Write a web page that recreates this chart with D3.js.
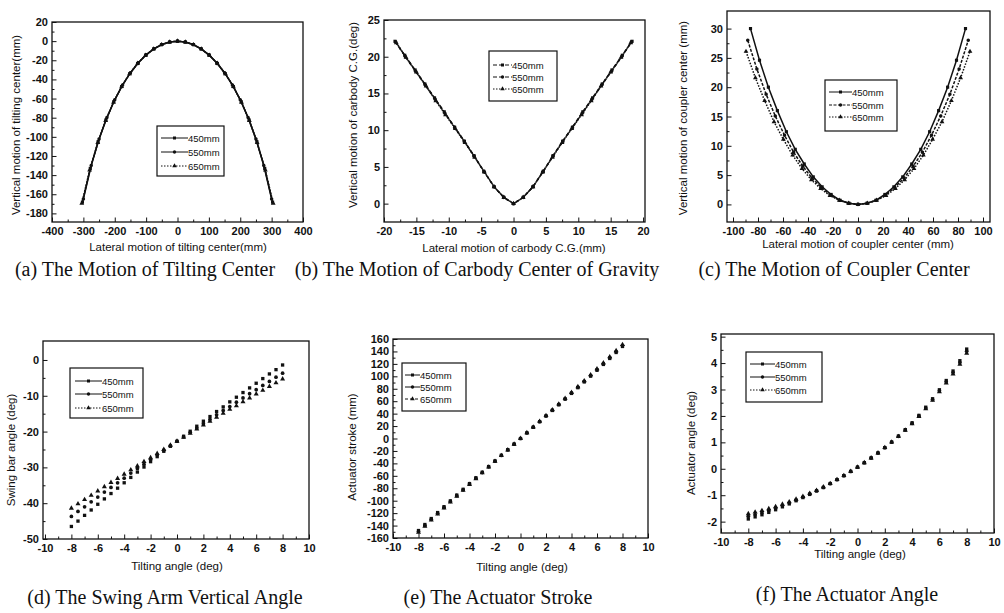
<!DOCTYPE html>
<html>
<head>
<meta charset="utf-8">
<script src="https://cdn.jsdelivr.net/npm/d3@7"></script>
<style>
  body { margin: 0; background: #fff; }
  svg { display: block; }
  .tick text { font-family: "Liberation Sans", Arial, sans-serif; font-weight: bold; font-size: 11px; fill: #111; }
  .tick line { stroke: #111; stroke-width: 1; }
  .axis-title { font-family: "Liberation Sans", Arial, sans-serif; font-size: 11.5px; fill: #111; }
  .legend-text { font-family: "Liberation Sans", Arial, sans-serif; font-size: 9.5px; fill: #111; }
  .caption { font-family: "Liberation Serif", "Times New Roman", serif; font-size: 20px; fill: #111; }
</style>
</head>
<body>
<div id="chart"></div>
<script>
const seriesNames = ["450mm", "550mm", "650mm"];

// (a) tilting center
const aX450 = [-303,-278,-253,-228,-203,-178,-152,-127,-101,-76,-51,-25,0,25,51,76,101,127,152,178,203,228,253,278,303];
const aY450 = [-168.2,-133.0,-105.1,-82.3,-63.3,-47.5,-34.0,-23.4,-14.6,-8.2,-3.7,-0.9,0,-0.9,-3.7,-8.2,-14.6,-23.4,-34.0,-47.5,-63.3,-82.3,-105.1,-133.0,-168.2];
const aX550 = [-300,-275,-250,-225,-200,-175,-150,-125,-100,-75,-50,-25,0,25,50,75,100,125,150,175,200,225,250,275,300];
const aY550 = [-165.0,-130.0,-102.2,-79.8,-61.3,-45.8,-33.0,-22.6,-14.3,-8.0,-3.5,-0.9,0,-0.9,-3.5,-8.0,-14.3,-22.6,-33.0,-45.8,-61.3,-79.8,-102.2,-130.0,-165.0];
const aX650 = [-305,-280,-254,-229,-204,-178,-153,-127,-102,-76,-51,-25,0,25,51,76,102,127,153,178,204,229,254,280,305];
const aY650 = [-169.5,-134.8,-106.0,-83.0,-63.9,-47.3,-34.3,-23.2,-14.8,-8.2,-3.7,-0.9,0,-0.9,-3.7,-8.2,-14.8,-23.2,-34.3,-47.3,-63.9,-83.0,-106.0,-134.8,-169.5];

// (b) carbody C.G.
const bX450 = [-18.3,-16.8,-15.2,-13.7,-12.2,-10.7,-9.1,-7.6,-6.1,-4.6,-3.0,-1.5,0,1.5,3.0,4.6,6.1,7.6,9.1,10.7,12.2,13.7,15.2,16.8,18.3];
const bY450 = [22.1,20.2,18.2,16.3,14.4,12.5,10.4,8.5,6.5,4.4,2.3,0.85,0,0.85,2.3,4.4,6.5,8.5,10.4,12.5,14.4,16.3,18.2,20.2,22.1];
const bX550 = [-18.2,-16.7,-15.1,-13.6,-12.1,-10.6,-9.1,-7.6,-6.1,-4.5,-3.0,-1.5,0,1.5,3.0,4.5,6.1,7.6,9.1,10.6,12.1,13.6,15.1,16.7,18.2];
const bY550 = [22.0,20.0,18.0,16.1,14.2,12.3,10.4,8.5,6.5,4.3,2.3,0.85,0,0.85,2.3,4.3,6.5,8.5,10.4,12.3,14.2,16.1,18.0,20.0,22.0];
const bX650 = [-18.1,-16.6,-15.0,-13.5,-12.0,-10.5,-9.0,-7.5,-6.0,-4.5,-3.0,-1.5,0,1.5,3.0,4.5,6.0,7.5,9.0,10.5,12.0,13.5,15.0,16.6,18.1];
const bY650 = [21.9,19.9,17.9,16.0,14.0,12.1,10.2,8.3,6.3,4.3,2.3,0.85,0,0.85,2.3,4.3,6.3,8.3,10.2,12.1,14.0,16.0,17.9,19.9,21.9];

// (c) coupler center
const cX450 = [-86,-78.8,-71.7,-64.5,-57.3,-50.2,-43,-35.8,-28.7,-21.5,-14.3,-7.2,0,7.2,14.3,21.5,28.7,35.8,43,50.2,57.3,64.5,71.7,78.8,86];
const cY450 = [30.0,24.6,20.0,16.0,12.4,9.4,6.9,4.7,3.0,1.7,0.7,0.2,0,0.2,0.7,1.7,3.0,4.7,6.9,9.4,12.4,16.0,20.0,24.6,30.0];
const cX550 = [-88.2,-80.9,-73.5,-66.2,-58.8,-51.5,-44.1,-36.8,-29.4,-22.1,-14.7,-7.4,0,7.4,14.7,22.1,29.4,36.8,44.1,51.5,58.8,66.2,73.5,80.9,88.2];
const cY550 = [28.0,23.1,18.8,15.1,11.8,8.9,6.5,4.5,2.9,1.6,0.7,0.2,0,0.2,0.7,1.6,2.9,4.5,6.5,8.9,11.8,15.1,18.8,23.1,28.0];
const cX650 = [-89.6,-82.1,-74.7,-67.2,-59.7,-52.3,-44.8,-37.3,-29.9,-22.4,-14.9,-7.5,0,7.5,14.9,22.4,29.9,37.3,44.8,52.3,59.7,67.2,74.7,82.1,89.6];
const cY650 = [26.1,21.6,17.7,14.1,11.1,8.4,6.1,4.2,2.7,1.5,0.7,0.2,0,0.2,0.7,1.5,2.7,4.2,6.1,8.4,11.1,14.1,17.7,21.6,26.1];

// (d)(e)(f) against tilting angle
const tilt = [-8,-7.5,-7,-6.5,-6,-5.5,-5,-4.5,-4,-3.5,-3,-2.5,-2,-1.5,-1,-0.5,0,0.5,1,1.5,2,2.5,3,3.5,4,4.5,5,5.5,6,6.5,7,7.5,8];

const d450 = [-46.5,-45.0,-43.4,-41.9,-40.3,-38.8,-37.3,-35.8,-34.3,-32.8,-31.3,-29.9,-28.4,-27.0,-25.5,-24.1,-22.7,-21.3,-19.9,-18.5,-17.1,-15.8,-14.4,-13.1,-11.7,-10.4,-9.1,-7.8,-6.5,-5.2,-3.9,-2.7,-1.4];
const d550 = [-43.7,-42.3,-41.0,-39.6,-38.3,-36.9,-35.6,-34.3,-33.0,-31.6,-30.3,-29.1,-27.8,-26.5,-25.2,-24.0,-22.7,-21.5,-20.2,-19.0,-17.8,-16.6,-15.3,-14.1,-13.0,-11.8,-10.6,-9.4,-8.3,-7.1,-6.0,-4.8,-3.7];
const d650 = [-41.4,-40.2,-39.0,-37.8,-36.6,-35.4,-34.2,-33.1,-31.9,-30.7,-29.6,-28.4,-27.3,-26.1,-25.0,-23.8,-22.7,-21.6,-20.5,-19.3,-18.2,-17.1,-16.0,-14.9,-13.8,-12.8,-11.7,-10.6,-9.5,-8.5,-7.4,-6.4,-5.3];

const e450 = [-148.0,-138.3,-128.7,-119.1,-109.7,-100.3,-91.0,-81.7,-72.5,-63.3,-54.2,-45.1,-36.1,-27.0,-18.0,-9.0,0,9.0,18.0,27.0,36.1,45.1,54.2,63.3,72.5,81.7,91.0,100.3,109.7,119.1,128.7,138.3,148.0];
const e550 = [-149.5,-139.7,-130.0,-120.3,-110.8,-101.3,-91.9,-82.5,-73.2,-63.9,-54.7,-45.6,-36.5,-27.3,-18.2,-9.1,0,9.1,18.2,27.3,36.5,45.6,54.7,63.9,73.2,82.5,91.9,101.3,110.8,120.3,130.0,139.7,149.5];
const e650 = [-151.0,-141.1,-131.3,-121.5,-111.9,-102.3,-92.8,-83.3,-74.0,-64.6,-55.3,-46.0,-36.8,-27.5,-18.4,-9.2,0,9.2,18.4,27.5,36.8,46.0,55.3,64.6,74.0,83.3,92.8,102.3,111.9,121.5,131.3,141.1,151.0];

const f450 = [-1.90,-1.82,-1.74,-1.65,-1.55,-1.44,-1.33,-1.21,-1.09,-0.97,-0.84,-0.71,-0.56,-0.41,-0.26,-0.10,0.06,0.23,0.41,0.60,0.80,1.01,1.24,1.48,1.74,2.02,2.33,2.65,2.99,3.34,3.70,4.09,4.53];
const f550 = [-1.80,-1.73,-1.66,-1.58,-1.49,-1.39,-1.29,-1.18,-1.07,-0.95,-0.83,-0.70,-0.56,-0.41,-0.26,-0.10,0.06,0.23,0.41,0.60,0.80,1.01,1.23,1.47,1.72,2.00,2.30,2.62,2.95,3.29,3.64,4.02,4.45];
const f650 = [-1.70,-1.64,-1.58,-1.51,-1.43,-1.34,-1.25,-1.15,-1.05,-0.93,-0.82,-0.69,-0.56,-0.41,-0.26,-0.10,0.06,0.23,0.41,0.60,0.80,1.01,1.22,1.46,1.70,1.98,2.27,2.59,2.91,3.24,3.58,3.95,4.37];

// tick labels
const aXTicks = [-400,-300,-200,-100,0,100,200,300,400];
const aYTicks = [20,0,-20,-40,-60,-80,-100,-120,-140,-160,-180];
const bXTicks = [-20,-15,-10,-5,0,5,10,15,20];
const bYTicks = [0,5,10,15,20,25];
const cXTicks = [-100,-80,-60,-40,-20,0,20,40,60,80,100];
const cYTicks = [0,5,10,15,20,25,30];
const tiltTicks = [-10,-8,-6,-4,-2,0,2,4,6,8,10];
const dYTicks = [-50,-40,-30,-20,-10,0];
const eYTicks = [-160,-140,-120,-100,-80,-60,-40,-20,0,20,40,60,80,100,120,140,160];
const fYTicks = [-2,-1,0,1,2,3,4,5];

const symbols = [d3.symbolSquare, d3.symbolCircle, d3.symbolTriangle];

const W = 1004, H = 613;
const svg = d3.select("#chart").append("svg")
  .attr("width", W).attr("height", H)
  .attr("viewBox", [0, 0, W, H]);

const zip = (xs, ys) => xs.map((x, i) => ({x: x, y: ys[i]}));

const panels = [
  { box: [52, 22, 303, 222], xd: [-400, 400], yd: [-189, 20], xt: aXTicks, yt: aYTicks,
    data: [zip(aX450, aY450), zip(aX550, aY550), zip(aX650, aY650)], lines: true, dash: [null, null, "1.5,1.5"],
    xTitle: "Lateral motion of tilting center(mm)", xTitlePos: [178, 251],
    yTitle: "Vertical motion of tilting center(mm)", yTitlePos: [20, 125],
    caption: "(a) The Motion of Tilting Center", capPos: [145, 276],
    legend: { box: [157, 126, 224, 176], rows: [138, 152, 166], lx: [161, 188] } },
  { box: [384, 20, 645, 222], xd: [-20, 20.3], yd: [-2.5, 25], xt: bXTicks, yt: bYTicks,
    data: [zip(bX450, bY450), zip(bX550, bY550), zip(bX650, bY650)], lines: true, dash: ["4,2", "4,2", "1.5,1.5"],
    xTitle: "Lateral motion of carbody C.G.(mm)", xTitlePos: [514, 252],
    yTitle: "Vertical motion of carbody C.G.(deg)", yTitlePos: [357, 115],
    caption: "(b) The Motion of Carbody Center of Gravity", capPos: [477, 276],
    legend: { box: [489, 51, 557, 101], rows: [65, 77, 89], lx: [493, 512] } },
  { box: [727, 11, 990, 222], xd: [-104.8, 105.6], yd: [-3, 33], xt: cXTicks, yt: cYTicks,
    data: [zip(cX450, cY450), zip(cX550, cY550), zip(cX650, cY650)], lines: true, dash: [null, "3,1.5", "1.5,1.5"],
    xTitle: "Lateral motion of coupler center (mm)", xTitlePos: [858, 248],
    yTitle: "Vertical motion of coupler center (mm)", yTitlePos: [687, 118],
    caption: "(c) The Motion of Coupler Center", capPos: [834, 276],
    legend: { box: [825, 80, 897, 131], rows: [92, 105, 117], lx: [829, 852] } },
  { box: [43, 341, 309, 539], xd: [-10.15, 10], yd: [-50, 5.3], xt: tiltTicks, yt: dYTicks,
    data: [zip(tilt, d450), zip(tilt, d550), zip(tilt, d650)], lines: false, dash: [null, null, "1.5,1.5"],
    xTitle: "Tilting angle (deg)", xTitlePos: [177, 570],
    yTitle: "Swing bar angle (deg)", yTitlePos: [15, 450],
    caption: "(d) The Swing Arm Vertical Angle", capPos: [165, 604],
    legend: { box: [70, 368, 143, 418], rows: [381, 394, 408], lx: [75, 102] } },
  { box: [393, 339, 648, 538], xd: [-10, 10], yd: [-160, 160], xt: tiltTicks, yt: eYTicks,
    data: [zip(tilt, e450), zip(tilt, e550), zip(tilt, e650)], lines: false, dash: [null, null, "3,2"],
    xTitle: "Tilting angle (deg)", xTitlePos: [522, 571],
    yTitle: "Actuator stroke (mm)", yTitlePos: [356, 447],
    caption: "(e) The Actuator Stroke", capPos: [498, 604],
    legend: { box: [402, 363, 466, 411], rows: [375, 387, 399], lx: [405, 420] } },
  { box: [721, 334, 994, 533], xd: [-10, 10], yd: [-2.43, 5.1], xt: tiltTicks, yt: fYTicks,
    data: [zip(tilt, f450), zip(tilt, f550), zip(tilt, f650)], lines: false, dash: [null, null, "1.5,1.5"],
    xTitle: "Tilting angle (deg)", xTitlePos: [860, 558],
    yTitle: "Actuator angle (deg)", yTitlePos: [695, 443],
    caption: "(f) The Actuator Angle", capPos: [847, 601],
    legend: { box: [746, 352, 822, 402], rows: [364, 377, 390], lx: [750, 775] } }
];

// halfway ticks between the labelled ones
const minorOf = ticks => d3.pairs(ticks).map(([a, b]) => (a + b) / 2);

const drawPanel = p => {
  const [l, t, r, b] = p.box;
  const x = d3.scaleLinear().domain(p.xd).range([l, r]);
  const y = d3.scaleLinear().domain(p.yd).range([b, t]);
  const g = svg.append("g");

  // minor ticks (inward)
  g.append("g").attr("transform", `translate(0,${b})`)
    .call(d3.axisBottom(x).tickValues(minorOf(p.xt)).tickSize(-2.5).tickFormat(""))
    .call(s => s.select(".domain").remove());
  g.append("g").attr("transform", `translate(${l},0)`)
    .call(d3.axisLeft(y).tickValues(minorOf(p.yt)).tickSize(-2.5).tickFormat(""))
    .call(s => s.select(".domain").remove());

  // major ticks + labels
  g.append("g").attr("transform", `translate(0,${b})`)
    .call(d3.axisBottom(x).tickValues(p.xt).tickSize(-4.5).tickPadding(5).tickFormat(d => String(d)))
    .call(s => s.select(".domain").remove());
  g.append("g").attr("transform", `translate(${l},0)`)
    .call(d3.axisLeft(y).tickValues(p.yt).tickSize(-4.5).tickPadding(4).tickFormat(d => String(d)))
    .call(s => s.select(".domain").remove());

  // frame
  g.append("rect")
    .attr("x", l).attr("y", t).attr("width", r - l).attr("height", b - t)
    .attr("fill", "none").attr("stroke", "#111").attr("stroke-width", 1.3);

  const line = d3.line().x(d => x(d.x)).y(d => y(d.y));

  p.data.forEach((pts, i) => {
    if (p.lines) {
      g.append("path")
        .datum(pts)
        .attr("d", line)
        .attr("fill", "none")
        .attr("stroke", "#111")
        .attr("stroke-width", 1.5)
        .attr("stroke-dasharray", p.dash[i]);
    }
    g.selectAll(null)
      .data(pts)
      .join("path")
      .attr("transform", d => `translate(${x(d.x)},${y(d.y)})`)
      .attr("d", d3.symbol(symbols[i], p.lines ? 10 : 11))
      .attr("fill", "#111");
  });

  // legend
  const lg = p.legend;
  g.append("rect")
    .attr("x", lg.box[0]).attr("y", lg.box[1])
    .attr("width", lg.box[2] - lg.box[0]).attr("height", lg.box[3] - lg.box[1])
    .attr("fill", "#fff").attr("stroke", "#111").attr("stroke-width", 1.2);
  seriesNames.forEach((name, i) => {
    const yy = lg.rows[i];
    g.append("line")
      .attr("x1", lg.lx[0]).attr("x2", lg.lx[1]).attr("y1", yy).attr("y2", yy)
      .attr("stroke", "#111").attr("stroke-width", 1)
      .attr("stroke-dasharray", p.dash[i]);
    g.append("path")
      .attr("transform", `translate(${(lg.lx[0] + lg.lx[1]) / 2},${yy})`)
      .attr("d", d3.symbol(symbols[i], 9))
      .attr("fill", "#111");
    g.append("text")
      .attr("class", "legend-text")
      .attr("x", lg.lx[1]).attr("y", yy + 3.5)
      .text(name);
  });

  // titles
  g.append("text").attr("class", "axis-title")
    .attr("x", p.xTitlePos[0]).attr("y", p.xTitlePos[1])
    .attr("text-anchor", "middle").text(p.xTitle);
  g.append("text").attr("class", "axis-title")
    .attr("transform", `translate(${p.yTitlePos[0]},${p.yTitlePos[1]}) rotate(-90)`)
    .attr("text-anchor", "middle").text(p.yTitle);
  g.append("text").attr("class", "caption")
    .attr("x", p.capPos[0]).attr("y", p.capPos[1])
    .attr("text-anchor", "middle").text(p.caption);
};

panels.forEach(drawPanel);
</script>
</body>
</html>
